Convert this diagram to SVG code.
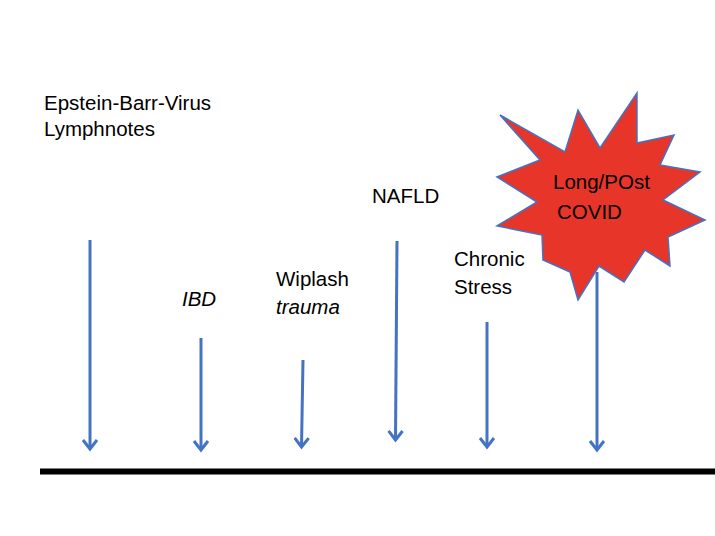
<svg xmlns="http://www.w3.org/2000/svg" width="715" height="536" viewBox="0 0 715 536">
<defs>
<style>
.lbl{font-family:"Liberation Sans",Arial,sans-serif;font-size:20.5px;fill:#000}
.it{font-style:italic}
.arr{stroke:#4472C4;stroke-width:3;fill:none;marker-end:url(#ah)}
</style>
<marker id="ah" viewBox="-12 -10 16 20" markerUnits="userSpaceOnUse" markerWidth="16" markerHeight="20" refX="0" refY="0" orient="auto">
<path d="M-9,-7 L0,0 L-9,7" fill="none" stroke="#4472C4" stroke-width="3" stroke-linejoin="miter"/>
</marker>
</defs>
<rect width="715" height="536" fill="#fff"/>
<g id="baseline">
<line x1="40" y1="471.5" x2="715" y2="471.5" stroke="#000" stroke-width="6"/>
</g>
<g id="connectors">
<line class="arr" x1="90" y1="240" x2="90" y2="449"/>
<line class="arr" x1="201" y1="338" x2="201" y2="450"/>
<line class="arr" x1="303" y1="360" x2="301.5" y2="447"/>
<line class="arr" x1="397" y1="241" x2="395.5" y2="440"/>
<line class="arr" x1="487" y1="322" x2="487" y2="447"/>
<line class="arr" x1="597" y1="272" x2="597" y2="450"/>
</g>
<g id="covid">
<polygon points="500,115 565,152 578,110 600,148 637,93 637,143 674,135 660,165 700,172 663,200 705,220 668,237 670,266 645,250 624,282 599,266 578,300 570,272 543,260 542,235 497,226 537,202 497,177 540,160" fill="#E8352A" stroke="#4472C4" stroke-width="1.5" stroke-linejoin="miter"/>
<text class="lbl" x="553" y="189">Long/POst</text>
<text class="lbl" x="557" y="219">COVID</text>
</g>
<g id="ebv">
<text class="lbl" x="44" y="110">Epstein-Barr-Virus</text>
<text class="lbl" x="44" y="136">Lymphnotes</text>
</g>
<g id="ibd">
<text class="lbl it" x="182" y="306">IBD</text>
</g>
<g id="wiplash">
<text class="lbl" x="276" y="286">Wiplash</text>
<text class="lbl it" x="276" y="314">trauma</text>
</g>
<g id="nafld">
<text class="lbl" x="372" y="203">NAFLD</text>
</g>
<g id="stress">
<text class="lbl" x="454" y="266">Chronic</text>
<text class="lbl" x="454" y="294">Stress</text>
</g>
</svg>
